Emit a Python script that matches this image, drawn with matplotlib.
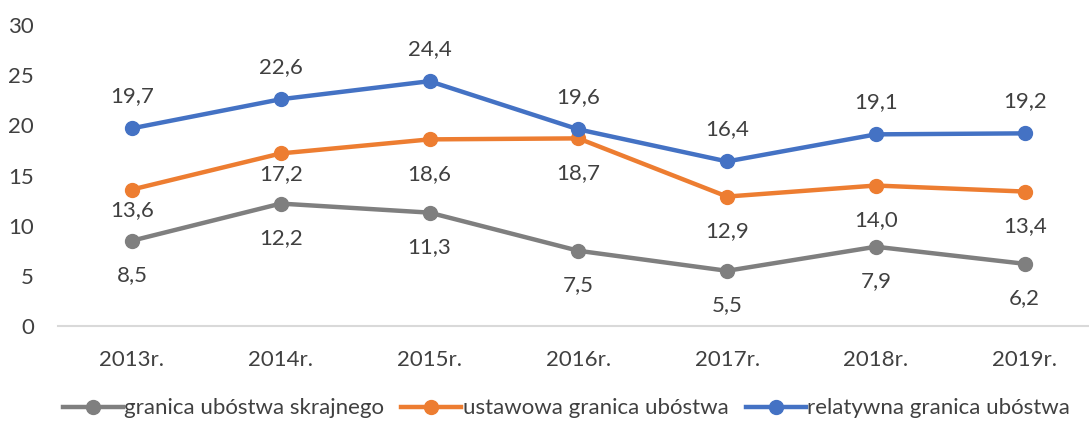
import numpy as np
import matplotlib.pyplot as plt
from matplotlib.lines import Line2D

plt.rcParams['font.family'] = ['Lato', 'DejaVu Sans']

years = ['2013r.', '2014r.', '2015r.', '2016r.', '2017r.', '2018r.', '2019r.']
skrajne = [8.5, 12.2, 11.3, 7.5, 5.5, 7.9, 6.2]
ustawowe = [13.6, 17.2, 18.6, 18.7, 12.9, 14.0, 13.4]
relatywne = [19.7, 22.6, 24.4, 19.6, 16.4, 19.1, 19.2]
names = ['granica ubóstwa skrajnego', 'ustawowa granica ubóstwa', 'relatywna granica ubóstwa']

colors = ['#7f7f7f', '#ed7d31', '#4472c4']
txt = '#404040'

# label offsets in points (negative = below)
offsets = [
    [-25] * 7,
    [-15, -15, -25, -25, -25, -25, -25],
    [23] * 7,
]

fig = plt.figure(figsize=(10.89, 4.21), dpi=100)
ax = fig.add_axes([57.6 / 1089, 95 / 421, 1041.4 / 1089, 301 / 421])

x = np.arange(len(years))
for vals, col, offs in zip([skrajne, ustawowe, relatywne], colors, offsets):
    ax.plot(x, vals, color=col, lw=3.2, marker='o', ms=10, solid_capstyle='round', zorder=3)
    for xi, v, o in zip(x, vals, offs):
        ax.annotate(('%.1f' % v).replace('.', ','), (xi, v), xytext=(0, o),
                    textcoords='offset points', ha='center', va='center',
                    fontsize=16, color=txt)

ax.set_xlim(-0.5, 6.5)
ax.set_ylim(0, 30)
ax.set_yticks(range(0, 31, 5))
ax.set_xticks(x)
ax.set_xticklabels(years)
ax.tick_params(length=0, labelsize=16, colors=txt)
ax.tick_params(axis='y', pad=17)
ax.tick_params(axis='x', pad=17)
for s in ['top', 'right', 'left']:
    ax.spines[s].set_visible(False)
ax.spines['bottom'].set_color('#d9d9d9')
ax.spines['bottom'].set_linewidth(1.5)

handles = [Line2D([], [], color=c, lw=3.2, marker='o', ms=10) for c in colors]
fig.legend(handles, names, loc='center', bbox_to_anchor=(0.52, 0.03), ncol=3,
           frameon=False, fontsize=16, labelcolor=txt, handlelength=2.7,
           handletextpad=0.05, columnspacing=0.8)

fig.savefig('out.png', dpi=100)
